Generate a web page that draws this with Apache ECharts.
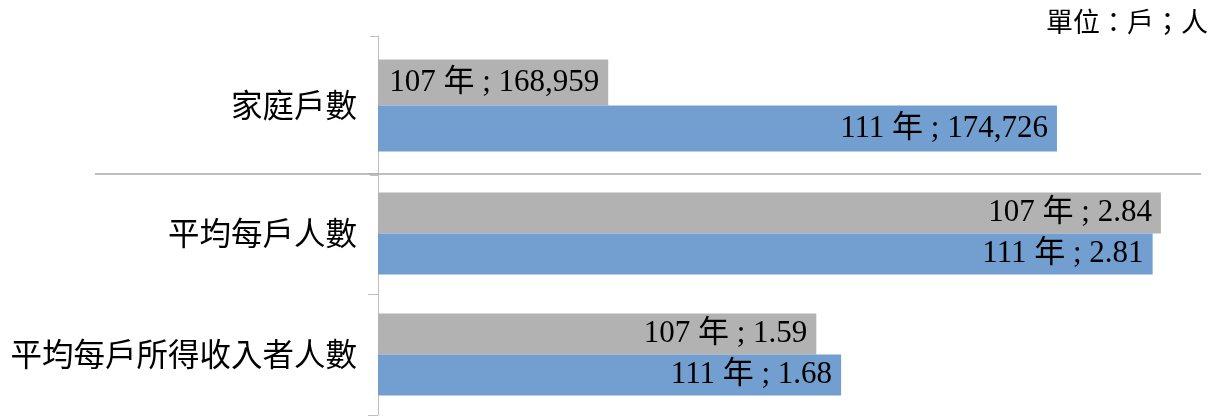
<!DOCTYPE html>
<html>
<head>
<meta charset="utf-8">
<script src="https://cdn.jsdelivr.net/npm/echarts@6/dist/echarts.min.js"></script>
<style>
  html, body { margin: 0; padding: 0; background: #fff; }
  #echart { width: 1219px; height: 416px; }
</style>
</head>
<body>
<div id="echart"></div>
<script>
// 資料
var categories = ['家庭戶數', '平均每戶人數', '平均每戶所得收入者人數'];
var seriesNames = ['107 年', '111 年'];
var values107 = [168959, 2.84, 1.59];
var values111 = [174726, 2.81, 1.68];
var unitText = '單位：戶；人';

var serifFont = "'Liberation Serif', 'Times New Roman', 'Noto Sans CJK TC', serif";
var cjkFont = "'Noto Sans CJK TC', sans-serif";
var colors = ['#b2b2b2', '#729fcf'];

var myChart = echarts.init(document.getElementById('echart'));

// 上面一張是戶數 (第一個分類)，下面一張是人數 (其他分類)
var topCats = categories.slice(0, 1);
var bottomCats = categories.slice(1);

var labelOpt = {
  show: true,
  position: 'insideRight',
  distance: 9,
  color: '#000',
  fontSize: 31,
  fontFamily: serifFont,
  formatter: function (p) {
    return p.seriesName + ' ; ' + p.value.toLocaleString('en-US');
  }
};

function catAxis(gridIndex, data, tickLen) {
  return {
    type: 'category',
    gridIndex: gridIndex,
    data: data,
    inverse: true,
    axisLine: { show: true, lineStyle: { color: '#bfbfbf', width: 1 } },
    axisTick: { show: true, length: tickLen, lineStyle: { color: '#bfbfbf' } },
    axisLabel: {
      color: '#000',
      fontSize: 31.5,
      fontFamily: cjkFont,
      margin: 21
    }
  };
}

function makeSeries(name, vals, idx) {
  var list = [];
  // 上圖
  list.push({
    name: name,
    type: 'bar',
    xAxisIndex: 0,
    yAxisIndex: 0,
    data: vals.slice(0, 1),
    barWidth: 46,
    barGap: '0%',
    itemStyle: { color: colors[idx] },
    label: labelOpt
  });
  // 下圖
  list.push({
    name: name,
    type: 'bar',
    xAxisIndex: 1,
    yAxisIndex: 1,
    data: vals.slice(1),
    barWidth: 41,
    barGap: '0%',
    itemStyle: { color: colors[idx] },
    label: labelOpt
  });
  return list;
}

var option = {
  animation: false,
  backgroundColor: '#fff',
  title: {
    text: unitText,
    right: 6,
    top: 3,
    textStyle: { fontSize: 27, fontWeight: 'normal', color: '#000', fontFamily: cjkFont }
  },
  grid: [
    { left: 378, right: 24, top: 36, height: 139 },
    { left: 378, right: 14, top: 173, bottom: 1 }
  ],
  xAxis: [
    { type: 'value', gridIndex: 0, min: 166000, max: 176500, show: false },
    { type: 'value', gridIndex: 1, min: 0, max: 3, show: false }
  ],
  yAxis: [
    catAxis(0, topCats, 8),
    catAxis(1, bottomCats, 10)
  ],
  series: makeSeries(seriesNames[0], values107, 0).concat(makeSeries(seriesNames[1], values111, 1)),
  graphic: [{
    type: 'line',
    shape: { x1: 95, y1: 174, x2: 1201, y2: 174 },
    style: { stroke: '#a9a9a9', lineWidth: 1.5 },
    z: 10
  }]
};

myChart.setOption(option);
</script>
</body>
</html>
